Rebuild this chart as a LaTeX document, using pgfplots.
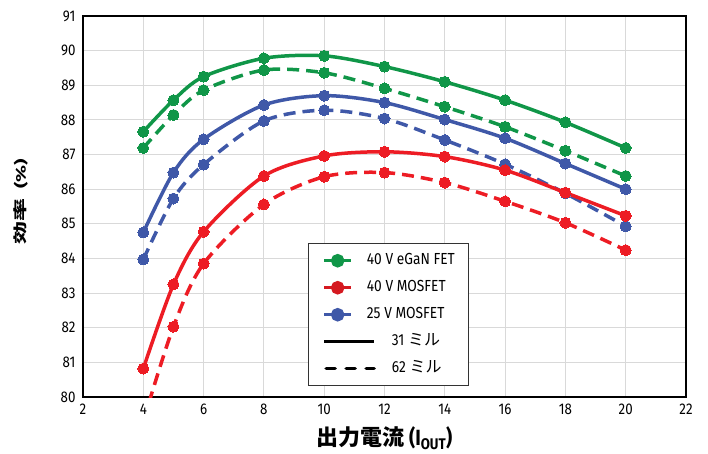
\documentclass[border=0pt]{standalone}
\usepackage{pgfplots}
\pgfplotsset{compat=1.18}
\usepackage{fontspec}
\setmainfont{Fira Sans}[FakeStretch=0.86]
\newfontfamily\jp{Noto Sans CJK JP}
\definecolor{cg}{RGB}{16,150,72}
\definecolor{cr}{RGB}{237,28,36}
\definecolor{cb}{RGB}{63,88,168}
\begin{document}
\begin{tikzpicture}
\useasboundingbox (-83pt,-56pt) rectangle (625pt,397pt);
\begin{axis}[at={(0,0)}, anchor=south west, scale only axis,
  width=603pt, height=381pt,
  xmin=2, xmax=22, ymin=80, ymax=91,
  xtick={2,4,...,22}, ytick={80,81,...,91},
  grid=major, major grid style={color=black!15, line width=1pt},
  axis line style={line width=1.3pt}, tick style={draw=none},
  /pgf/number format/assume math mode=true,
  tick label style={font=\fontsize{15.5}{15.5}\selectfont},
  xticklabel style={yshift=-3pt},
  yticklabel style={xshift=-4pt},
  xlabel={\bfseries{\jp 出力電流} (I\textsubscript{OUT})},
  xlabel style={at={(axis description cs:0.5,-0.108)}, anchor=center, font=\fontsize{22}{22}\selectfont},
  ylabel={\scalebox{1}[0.6]{\fontsize{23}{23}\selectfont\bfseries{\jp 効率}\hspace{0.4em}(\%)}},
  ylabel style={at={(axis description cs:-0.103,0.513)}, anchor=center},
  every axis plot/.append style={smooth, line width=3.5pt, mark=*, mark size=5.5pt, mark options={solid, line width=0pt}},
  legend cell align=left,
  legend style={at={(axis cs:9.46,84.44)}, anchor=north west, draw=black!80, line width=1pt, fill=white,
    font=\fontsize{16}{16}\selectfont, nodes={inner sep=0pt, text height=11pt, text depth=3pt},
    row sep=13pt, inner ysep=10pt, inner xsep=14pt, column sep=4pt},
]
% green 40V eGaN FET
\addplot[cg, forget plot] coordinates {(4,87.66)(5,88.57)(6,89.25)(8,89.78)(10,89.85)(12,89.54)(14,89.10)(16,88.57)(18,87.93)(20,87.19)};
\addplot[cg, dash pattern=on 12pt off 7pt, forget plot] coordinates {(4,87.19)(5,88.14)(6,88.86)(8,89.44)(10,89.36)(12,88.91)(14,88.38)(16,87.80)(18,87.11)(20,86.38)};
% blue 25V MOSFET
\addplot[cb, forget plot] coordinates {(4,84.75)(5,86.48)(6,87.44)(8,88.43)(10,88.70)(12,88.50)(14,88.01)(16,87.47)(18,86.74)(20,86.00)};
\addplot[cb, dash pattern=on 12pt off 7pt, forget plot] coordinates {(4,83.97)(5,85.73)(6,86.71)(8,87.97)(10,88.28)(12,88.04)(14,87.42)(16,86.72)(18,85.88)(20,84.93)};
% red 40V MOSFET
\addplot[cr, forget plot] coordinates {(4,80.82)(5,83.25)(6,84.77)(8,86.38)(10,86.96)(12,87.08)(14,86.94)(16,86.55)(18,85.90)(20,85.23)};
\addplot[cr, dash pattern=on 12pt off 7pt, forget plot] coordinates {(4,79.30)(5,82.03)(6,83.85)(8,85.56)(10,86.36)(12,86.48)(14,86.19)(16,85.65)(18,85.03)(20,84.24)};
% legend
\addlegendimage{legend image code/.code={\path[draw=none,fill=none] (0pt,0pt) -- (50pt,0pt); \draw[cg, line width=3.5pt] (0pt,0pt) -- (27pt,0pt); \fill[cg] (13.5pt,0pt) circle (5pt);}}
\addlegendentry{\hspace{-13pt}40 V eGaN FET}
\addlegendimage{legend image code/.code={\path[draw=none,fill=none] (0pt,0pt) -- (50pt,0pt); \draw[cr!90!black, line width=3.5pt] (0pt,0pt) -- (27pt,0pt); \fill[cr!90!black] (13.5pt,0pt) circle (5pt);}}
\addlegendentry{\hspace{-13pt}40 V MOSFET}
\addlegendimage{legend image code/.code={\path[draw=none,fill=none] (0pt,0pt) -- (50pt,0pt); \draw[cb, line width=3.5pt] (0pt,0pt) -- (27pt,0pt); \fill[cb] (13.5pt,0pt) circle (5pt);}}
\addlegendentry{\hspace{-13pt}25 V MOSFET}
\addlegendimage{legend image code/.code={\draw[black, line width=3.5pt] (0pt,0pt) -- (50pt,0pt);}}
\addlegendentry{\hspace{12pt}31 {\jp ミル}}
\addlegendimage{legend image code/.code={\draw[black, line width=3.5pt, line cap=round, dash pattern=on 9pt off 11pt] (2pt,0pt) -- (50pt,0pt);}}
\addlegendentry{\hspace{12pt}62 {\jp ミル}}
\end{axis}
\end{tikzpicture}
\end{document}
